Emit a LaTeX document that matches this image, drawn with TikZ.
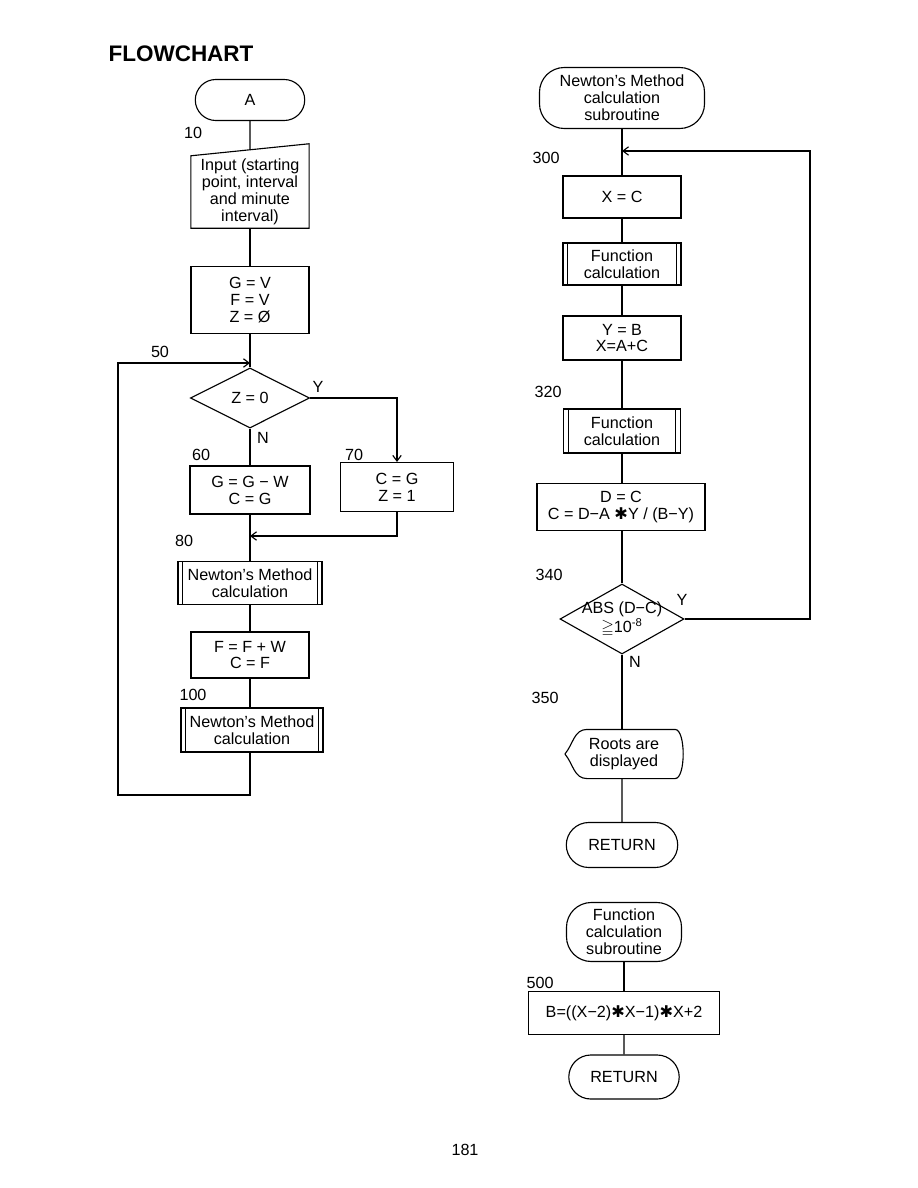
\documentclass[tikz,border=0pt]{standalone}
\usepackage{amssymb}
\usepackage{fontspec}
\setmainfont{Liberation Sans}
\newfontfamily\symfont{DejaVu Sans}
\usetikzlibrary{shapes.geometric, shapes.misc, arrows.meta}

\begin{document}
\begin{tikzpicture}[
  x=0.025cm, y=-0.025cm,
  font=\fontsize{11.5}{12}\selectfont,
  line width=0.8pt,
  proc/.style={rectangle, draw, align=center, inner sep=2pt},
  predef/.style={proc, path picture={
      \draw ([xshift=3.5pt]path picture bounding box.north west) -- ([xshift=3.5pt]path picture bounding box.south west);
      \draw ([xshift=-3.5pt]path picture bounding box.north east) -- ([xshift=-3.5pt]path picture bounding box.south east);}},
  term/.style={rounded rectangle, draw, align=center, inner sep=2pt},
  termwide/.style={rectangle, rounded corners=0.62cm, draw, align=center, inner sep=2pt},
  decide/.style={diamond, draw, align=center, inner sep=0pt, aspect=2},
  lbl/.style={inner sep=1pt},
  arr/.style={-{Straight Barb[length=4pt,width=6pt]}},
]
  \useasboundingbox (0,0) rectangle (918,1188);

  \node[lbl, font=\fontsize{16}{18}\selectfont\bfseries] (title) at (181,54) {FLOWCHART};

  % main routine
  \node[term, minimum width=2.875cm, minimum height=1.025cm] (A) at (250,100) {A};
  \node[align=center, inner sep=2pt, minimum width=2.925cm, minimum height=1.775cm] (inp) at (250,192)
    {Input (starting\\point, interval\\and minute\\interval)};
  \draw (inp.south west) -- (inp.south east) -- ([yshift=0.3cm]inp.north east) -- (inp.north west) -- cycle;
  \path ([yshift=0.15cm]inp.north) coordinate (inptop);
  \node[proc, minimum width=2.95cm, minimum height=1.675cm] (gv) at (250,300) {G = V\\F = V\\Z = Ø};
  \node[decide, minimum width=2.975cm, minimum height=1.5cm] (z0) at (250,398) {Z = 0};
  \node[proc, minimum width=3cm, minimum height=1.2cm] (ggw) at (250,490) {G = G − W\\C = G};
  \node[proc, minimum width=2.825cm, minimum height=1.225cm] (cg) at (397,487) {C = G\\Z = 1};
  \node[predef, minimum width=3.6cm, minimum height=1.075cm] (nm1) at (250,583) {Newton’s Method\\calculation};
  \node[proc, minimum width=2.95cm, minimum height=1.15cm] (ffw) at (250,655) {F = F + W\\C = F};
  \node[predef, minimum width=3.55cm, minimum height=1.1cm] (nm2) at (252,730) {Newton’s Method\\calculation};

  \coordinate (j50) at (250,363);
  \coordinate (j80) at (250,536);
  \coordinate (lp) at (118,795);

  \draw (A) -- (inptop);
  \draw (inp) -- (gv);
  \draw (gv) -- (z0);
  \draw (z0) -- (ggw);
  \draw (ggw) -- (nm1);
  \draw (nm1) -- (ffw);
  \draw (ffw) -- (nm2.north -| ffw);
  \draw[arr] (z0.east) -| (cg.north);
  \draw[arr] (cg.south) |- (j80);
  \draw[arr] (nm2.south -| ffw) |- (lp) |- (j50);

  \node[lbl] (zy) at (318,387) {Y};
  \node[lbl] (zn) at (263,438) {N};
  \node[lbl] (n10) at (193,133) {10};
  \node[lbl] (n50) at (160,352) {50};
  \node[lbl] (n60) at (201,455) {60};
  \node[lbl] (n70) at (354,455) {70};
  \node[lbl] (n80) at (184,541) {80};
  \node[lbl] (n100) at (193,695) {100};

  % Newton's method subroutine
  \node[termwide, minimum width=4.125cm, minimum height=1.525cm] (nmsub) at (622,98) {Newton’s Method\\calculation\\subroutine};
  \node[proc, minimum width=2.95cm, minimum height=1.05cm] (xc) at (622,197) {X = C};
  \node[predef, minimum width=2.95cm, minimum height=1.05cm] (fc1) at (622,264) {Function\\calculation};
  \node[proc, minimum width=2.95cm, minimum height=1.1cm] (yb) at (622,338) {Y = B\\X=A+C};
  \node[predef, minimum width=2.925cm, minimum height=1.1cm] (fc2) at (622,431) {Function\\calculation};
  \node[proc, minimum width=4.2cm, minimum height=1.175cm] (dc) at (621,507) {D = C\\C = D−A {\symfont ✱}Y / (B−Y)};
  \node[decide, aspect=1.8, inner sep=-6pt, minimum width=3.1cm, minimum height=1.75cm] (abs) at (622,619) {ABS (D−C)\\$\geqq$10\textsuperscript{-8}};
  \node[align=center, inner sep=2pt, minimum width=2.925cm, minimum height=1.2cm] (roots) at (624,754) {Roots are\\displayed};
  \draw (roots.west) to[out=50,in=180] ([xshift=0.55cm]roots.north west) -- ([xshift=-0.2cm]roots.north east)
    .. controls ([xshift=0.07cm]roots.north east) and ([xshift=0.07cm]roots.south east) .. ([xshift=-0.2cm]roots.south east)
    -- ([xshift=0.55cm]roots.south west) to[out=180,in=-50] (roots.west);
  \node[term, minimum width=2.925cm, minimum height=1.125cm] (ret1) at (622,845) {RETURN};

  \coordinate (j300) at (622,151);
  \coordinate (rt) at (810,619);

  \draw (nmsub) -- (xc);
  \draw (xc) -- (fc1);
  \draw (fc1) -- (yb);
  \draw (yb) -- (fc2);
  \draw (fc2) -- (dc.north -| fc2);
  \draw (dc.south -| fc2) -- (abs);
  \draw (abs) -- (roots.north -| abs);
  \draw (roots.south -| abs) -- (ret1);
  \draw[arr] (abs.east) -- (abs.east -| rt) |- (j300);

  \node[lbl] (ay) at (682,600) {Y};
  \node[lbl] (an) at (635,662) {N};
  \node[lbl] (n300) at (546,158) {300};
  \node[lbl] (n320) at (548,392) {320};
  \node[lbl] (n340) at (549,575) {340};
  \node[lbl] (n350) at (545,698) {350};

  % function subroutine
  \node[termwide, minimum width=2.875cm, minimum height=1.475cm] (fcsub) at (624,932) {Function\\calculation\\subroutine};
  \node[proc, minimum width=4.775cm, minimum height=1.075cm] (bx) at (624,1013) {B=((X−2){\symfont ✱}X−1){\symfont ✱}X+2};
  \node[term, minimum width=2.9cm, minimum height=1.1cm] (ret2) at (624,1077) {RETURN};
  \draw (fcsub) -- (bx);
  \draw (bx) -- (ret2);
  \node[lbl] (n500) at (540,983) {500};

  \node[lbl] (pg) at (465,1150) {181};
\end{tikzpicture}
\end{document}
